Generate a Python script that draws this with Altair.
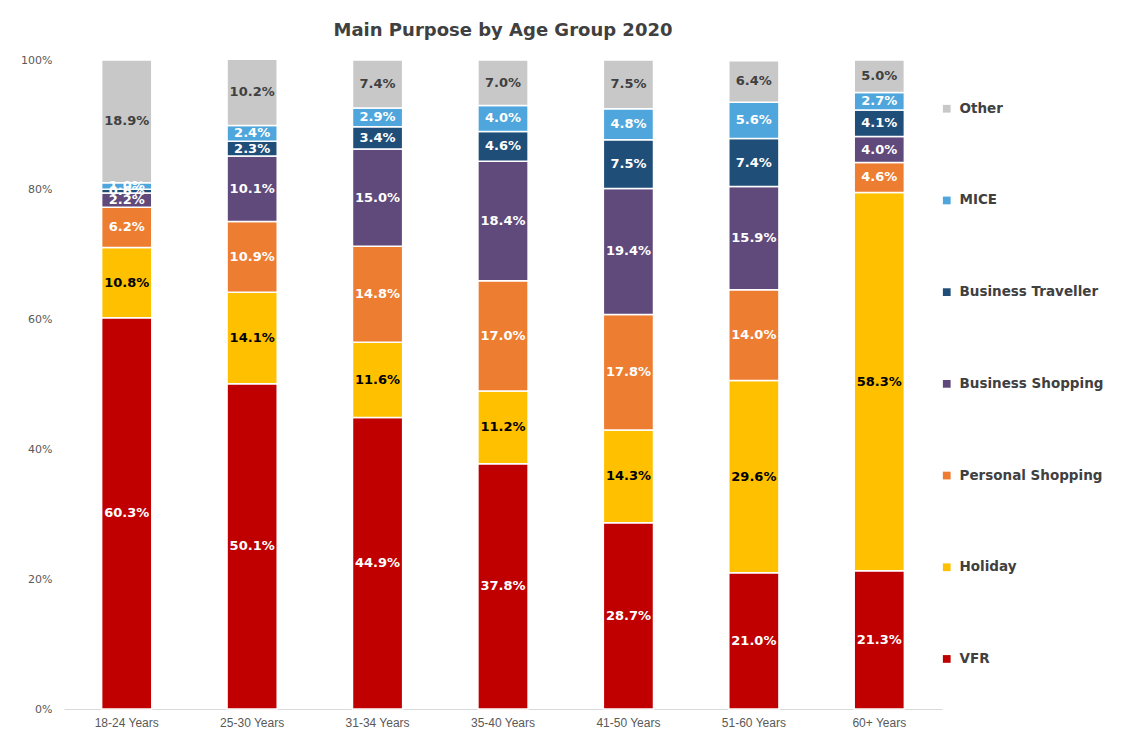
import altair as alt
import pandas as pd

ages = ["18-24 Years", "25-30 Years", "31-34 Years", "35-40 Years",
        "41-50 Years", "51-60 Years", "60+ Years"]
purposes = ["VFR", "Holiday", "Personal Shopping", "Business Shopping",
            "Business Traveller", "MICE", "Other"]
colors = ["#C00000", "#FFC000", "#ED7D31", "#604A7B", "#1F4E79", "#4EA6DC", "#C8C8C8"]
text_colors = ["#FFFFFF", "#000000", "#FFFFFF", "#FFFFFF", "#FFFFFF", "#FFFFFF", "#404040"]

vfr = [60.3, 50.1, 44.9, 37.8, 28.7, 21.0, 21.3]
holiday = [10.8, 14.1, 11.6, 11.2, 14.3, 29.6, 58.3]
personal = [6.2, 10.9, 14.8, 17.0, 17.8, 14.0, 4.6]
bshop = [2.2, 10.1, 15.0, 18.4, 19.4, 15.9, 4.0]
btrav = [0.6, 2.3, 3.4, 4.6, 7.5, 7.4, 4.1]
mice = [1.0, 2.4, 2.9, 4.0, 4.8, 5.6, 2.7]
other = [18.9, 10.2, 7.4, 7.0, 7.5, 6.4, 5.0]

series = [vfr, holiday, personal, bshop, btrav, mice, other]
rows = []
for pi, (p, vals) in enumerate(zip(purposes, series)):
    for a, v in zip(ages, vals):
        rows.append({"age": a, "purpose": p, "value": v, "ord": pi,
                     "tcolor": text_colors[pi], "label": f"{v:.1f}%"})
df = pd.DataFrame(rows)

legend_order = purposes[::-1]
legend_colors = colors[::-1]

base = alt.Chart(df).transform_stack(
    stack="value", groupby=["age"], as_=["y0", "y1"],
    sort=[alt.SortField("ord", order="ascending")]
).transform_calculate(mid="(datum.y0 + datum.y1) / 2")

xenc = alt.X("age:N", sort=ages, title=None,
             scale=alt.Scale(paddingInner=0.6, paddingOuter=0.3),
             axis=alt.Axis(labelAngle=0, ticks=False, domainColor="#D9D9D9",
                           labelFont="Liberation Sans", labelFontSize=12,
                           labelColor="#595959", labelPadding=8))

bars = base.mark_bar(stroke="white", strokeWidth=1.5).encode(
    x=xenc,
    y=alt.Y("y0:Q", title=None, scale=alt.Scale(domain=[0, 100], nice=False),
            axis=alt.Axis(values=[0, 20, 40, 60, 80, 100], labelExpr="datum.value + '%'",
                          grid=False, domain=False, ticks=False, labelPadding=12,
                          labelFont="DejaVu Sans", labelFontSize=11, labelColor="#595959")),
    y2="y1:Q",
    color=alt.Color("purpose:N", scale=alt.Scale(domain=legend_order, range=legend_colors),
                    legend=alt.Legend(title=None, orient="none", legendX=876, legendY=42,
                                      symbolType="square", symbolSize=60, symbolStrokeWidth=0,
                                      labelFont="DejaVu Sans", labelFontSize=13.5,
                                      labelFontWeight="bold", labelColor="#404040",
                                      rowPadding=76.7, labelOffset=6)),
)

labels = base.mark_text(font="DejaVu Sans", fontSize=13, fontWeight="bold").encode(
    x=alt.X("age:N", sort=ages),
    y=alt.Y("mid:Q"),
    text="label:N",
    color=alt.Color("tcolor:N", scale=None),
)

chart = alt.layer(bars, labels).properties(
    width=878, height=649,
    title=alt.Title("Main Purpose by Age Group 2020", fontSize=18, fontWeight="bold",
                    font="DejaVu Sans", color="#404040", offset=14),
    padding={"left": 56, "top": 52, "right": 184, "bottom": 22},
    autosize=alt.AutoSizeParams(type="none"),
).configure_view(stroke=None)

chart.save("out.html", embed_options={"renderer": "svg", "actions": False})
